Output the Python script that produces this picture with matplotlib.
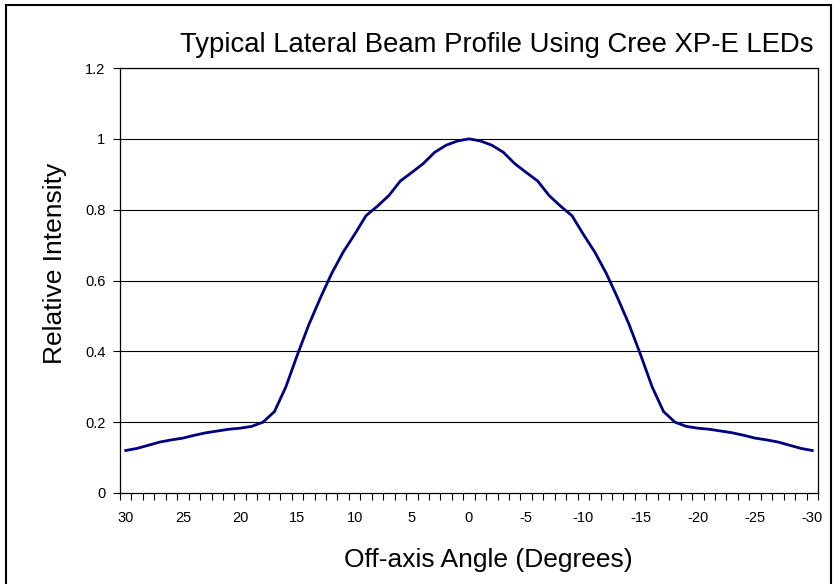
import numpy as np
import matplotlib
matplotlib.use('Agg')
from matplotlib import pyplot as plt
from matplotlib.patches import Rectangle
from matplotlib.ticker import FixedLocator, FuncFormatter

plt.rcParams['font.family'] = ['Liberation Sans', 'DejaVu Sans']

angles = list(range(30, -31, -1))
# one side of the profile, 30 deg down to 0 deg; the beam is symmetric
half = [0.120, 0.126, 0.135, 0.144, 0.150, 0.155, 0.163, 0.170, 0.175, 0.180,
        0.183, 0.188, 0.200, 0.230, 0.300, 0.390, 0.475, 0.550, 0.620, 0.680,
        0.730, 0.783, 0.810, 0.840, 0.881, 0.905, 0.930, 0.962, 0.982, 0.994,
        1.000]
intensity = half + half[-2::-1]

y_ticks = [0, 0.2, 0.4, 0.6, 0.8, 1.0, 1.2]
x_labels = [30, 25, 20, 15, 10, 5, 0, -5, -10, -15, -20, -25, -30]

fig = plt.figure(figsize=(8.33, 5.84), dpi=100)
ax = fig.add_axes([120 / 833, 91 / 584, 698 / 833, 425 / 584])

ax.plot(angles, intensity, color='#000080', lw=2.0, solid_joinstyle='round')

ax.set_xlim(30.5, -30.5)
ax.set_ylim(0, 1.2)
ax.set_yticks(y_ticks)
ax.yaxis.set_major_formatter(FuncFormatter(lambda v, p: '%g' % v))
for v in y_ticks[1:]:
    ax.axhline(v, color='black', lw=0.8, zorder=0)

ax.xaxis.set_major_locator(FixedLocator(x_labels))
ax.xaxis.set_minor_locator(FixedLocator(np.arange(-30.5, 31, 1)))
ax.set_xticklabels([str(v) for v in x_labels])
ax.tick_params(axis='x', which='major', length=0, pad=13, labelsize=10.5)
ax.tick_params(axis='x', which='minor', length=5, width=0.8)
ax.tick_params(axis='y', length=5, width=0.8, labelsize=10.5, pad=5.5)
for s in ax.spines.values():
    s.set_linewidth(0.9)

fig.text(497 / 833, 1 - 52 / 584, 'Typical Lateral Beam Profile Using Cree XP-E LEDs',
         ha='center', va='baseline', fontsize=19.8)
fig.text(55 / 833, 1 - 263 / 584, 'Relative Intensity', rotation=90,
         ha='center', va='center', fontsize=19)
fig.text(488 / 833, 1 - 567 / 584, 'Off-axis Angle (Degrees)',
         ha='center', va='baseline', fontsize=19)

# chart-area frame; its bottom edge lies below the picture
fig.patches.append(Rectangle((6 / 833, -5 / 584), 825 / 833, 584 / 584,
                             transform=fig.transFigure, fill=False,
                             edgecolor='black', lw=1.5))

fig.savefig('out.png', dpi=100)
